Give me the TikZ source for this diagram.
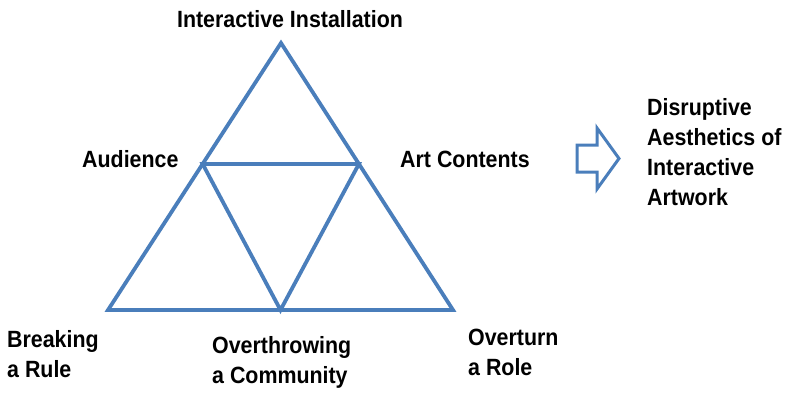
\documentclass[tikz,border=0pt]{standalone}
\usepackage{fontspec}
\setmainfont[FakeStretch=0.91]{Liberation Sans}
\usetikzlibrary{calc,positioning}
\definecolor{triblue}{HTML}{4A7EBB}
\tikzset{
     edge/.style = {draw=triblue, line width=3.8pt},   % triangle sides
  bigarrow/.style = {draw=triblue, line width=3pt, fill=white},
      txt/.style = {inner sep=0pt, anchor=base west, align=left,
                    font=\fontsize{23.5}{30}\selectfont\bfseries},
}

\begin{document}
\begin{tikzpicture}[x=1pt,y=-1pt]
\useasboundingbox (0,0) rectangle (789,392);
% outer triangle
\coordinate (apex) at (281,43);
\coordinate (bl)   at (108,310);
\coordinate (br)   at (453,310);
% inner triangle
\coordinate (il) at ($(apex)!0.453!(bl)$);
\coordinate (ir) at ($(apex)!0.453!(br)$);
\coordinate (ib) at ($(bl)!0.5!(br)$);
\draw[edge] (apex) -- (bl) -- (br) -- cycle;
\draw[edge] (il) -- (ir) -- (ib) -- cycle;

% labels (base = last line)
\node[txt,anchor=base] (top)       at (290,27)  {Interactive Installation};
\node[txt]             (audience)  at (82,167)  {Audience};
\node[txt]             (artcont)   at (400,167) {Art Contents};
\node[txt]             (rule)      at (7,377)   {Breaking\\a Rule};
\node[txt]             (community) at (212,383) {Overthrowing\\a Community};
\node[txt]             (role)      at (468,375) {Overturn\\a Role};
\node[txt]             (result)    at (647,205) {Disruptive\\Aesthetics of\\Interactive\\Artwork};

% hollow arrow
\draw[bigarrow] (577,145) -- (597,145) -- (597,128) -- (619,158.5)
   -- (597,189) -- (597,172) -- (577,172) -- cycle;
\end{tikzpicture}
\end{document}
